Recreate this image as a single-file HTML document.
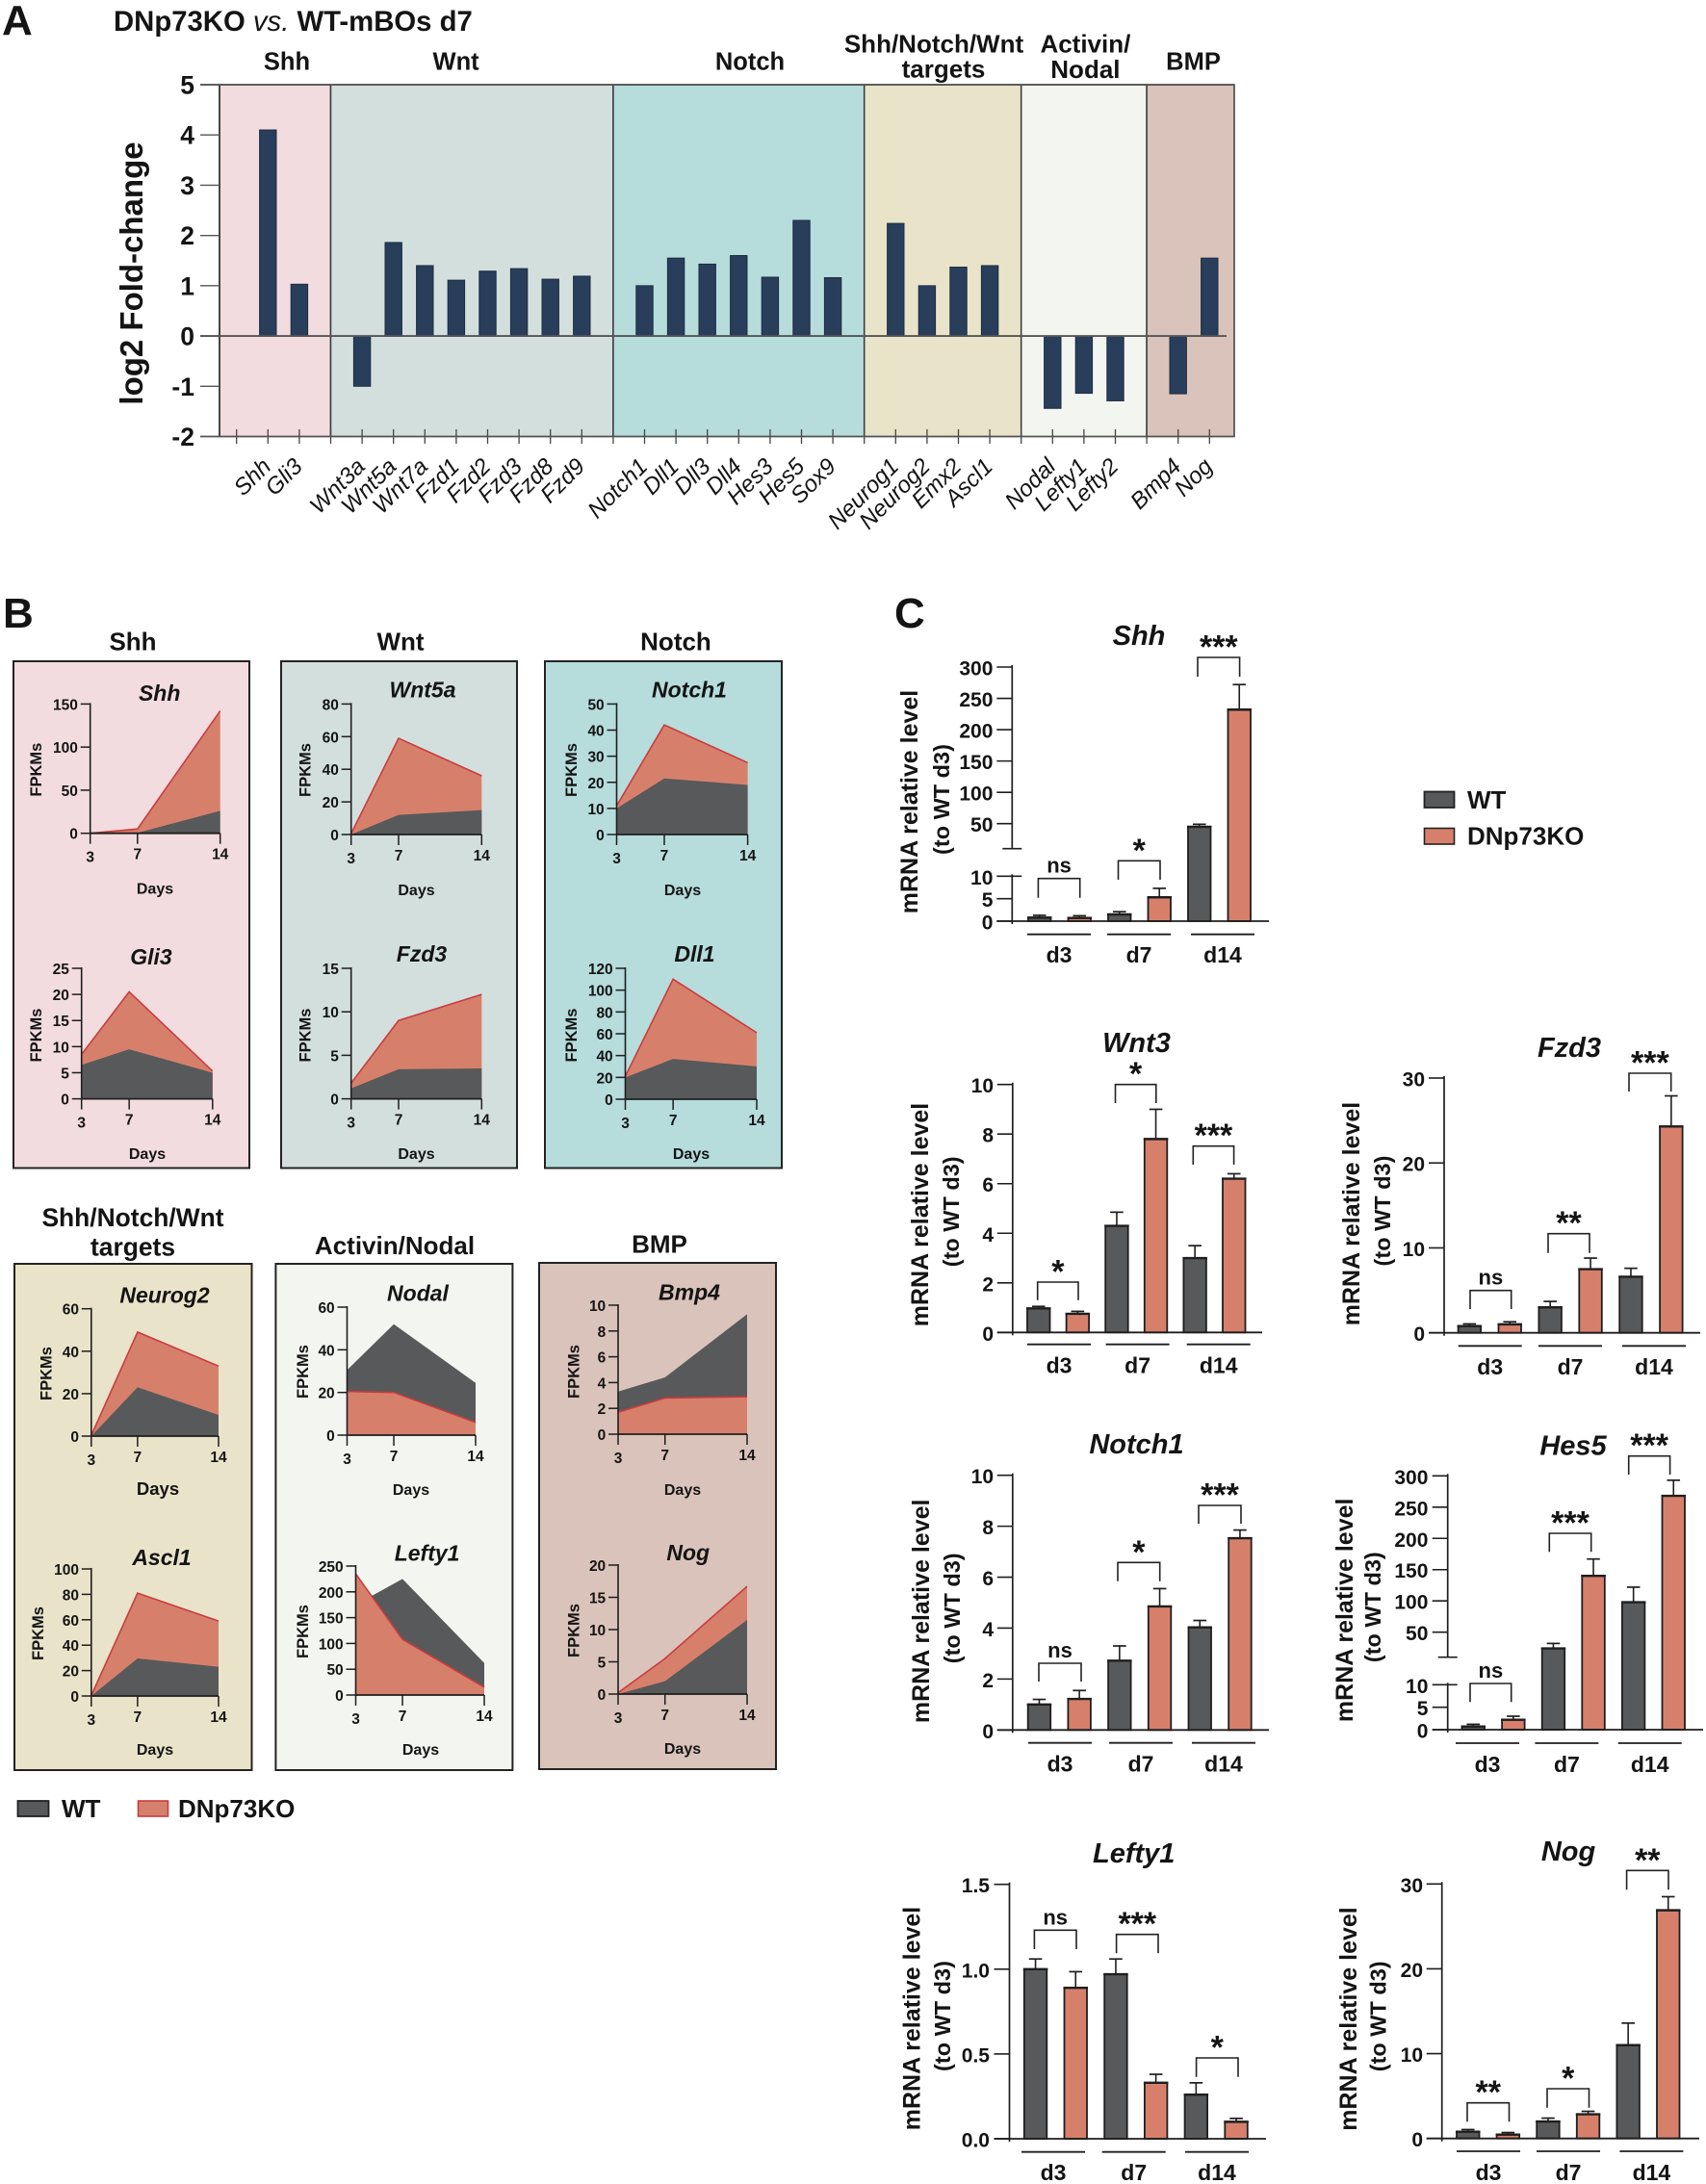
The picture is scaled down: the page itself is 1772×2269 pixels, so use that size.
<!DOCTYPE html>
<html lang="en">
<head>
<meta charset="utf-8">
<title>DNp73KO vs. WT mBOs pathway expression</title>
<style>
html,body{margin:0;padding:0;background:#fff;}
svg{display:block;font-family:"Liberation Sans",Arial,sans-serif;}
text{fill:#141414;}
</style>
</head>
<body>
<svg id="figure" width="1772" height="2269" viewBox="0 0 1772 2269">
  <rect x="0" y="0" width="1772" height="2269" fill="#ffffff"/>
  <text x="2" y="36" font-size="44" font-weight="700">A</text>
  <text x="118" y="32" font-size="29.3" font-weight="700">DNp73KO <tspan font-weight="400" font-style="italic">vs.</tspan> WT-mBOs d7</text>
  <text x="3" y="652" font-size="44" font-weight="700">B</text>
  <text x="929" y="652" font-size="44" font-weight="700">C</text>
  <g id="panelA"></g>
  <g id="panelB"></g>
  <g id="panelC"></g>
</svg>
<script>
/* ---------- Panel A data ---------- */
const foldPathways = ['Shh', 'Wnt', 'Notch', 'Shh/Notch/Wnt targets', 'Activin/Nodal', 'BMP'];
const foldPathwaySizes = [2, 8, 7, 4, 3, 2];
const foldGenes = ['Shh','Gli3','Wnt3a','Wnt5a','Wnt7a','Fzd1','Fzd2','Fzd3','Fzd8','Fzd9','Notch1','Dll1','Dll3','Dll4','Hes3','Hes5','Sox9','Neurog1','Neurog2','Emx2','Ascl1','Nodal','Lefty1','Lefty2','Bmp4','Nog'];
const foldValues = [4.1,1.03,-1,1.86,1.4,1.11,1.29,1.34,1.13,1.19,1.0,1.55,1.43,1.6,1.17,2.3,1.16,2.24,1.0,1.37,1.4,-1.44,-1.14,-1.29,-1.15,1.55];
const foldTicks = [-2,-1,0,1,2,3,4,5];

/* ---------- Panel B data ---------- */
const timeDays = [3,7,14];
const fpkmShhWT = [0,0.5,26];
const fpkmShhKO = [0,5,142];
const fpkmGli3WT = [6.5,9.5,5];
const fpkmGli3KO = [8.5,20.5,5.3];
const fpkmWnt5aWT = [0,12,15];
const fpkmWnt5aKO = [0.5,59,36];
const fpkmFzd3WT = [1.2,3.4,3.5];
const fpkmFzd3KO = [1.8,9,12];
const fpkmNotch1WT = [10,21.5,19];
const fpkmNotch1KO = [11,42,27.5];
const fpkmDll1WT = [20,37,30];
const fpkmDll1KO = [21,110,61];
const fpkmNeurog2WT = [0,23,10];
const fpkmNeurog2KO = [0.3,49,33];
const fpkmAscl1WT = [0,29.5,23];
const fpkmAscl1KO = [0.3,81,59];
const fpkmNodalWT = [30.5,52,24.5];
const fpkmNodalKO = [20.5,20,6];
const fpkmLefty1WT = [175,225,62];
const fpkmLefty1KO = [235,108,15];
const fpkmBmp4WT = [3.3,4.4,9.3];
const fpkmBmp4KO = [1.7,2.8,2.9];
const fpkmNogWT = [0,2,11.5];
const fpkmNogKO = [0.2,5.5,16.7];
const ticks150 = [0,50,100,150];
const ticks25 = [0,5,10,15,20,25];
const ticks80 = [0,20,40,60,80];
const ticks15 = [0,5,10,15];
const ticks50 = [0,10,20,30,40,50];
const ticks120 = [0,20,40,60,80,100,120];
const ticks60 = [0,20,40,60];
const ticks100 = [0,20,40,60,80,100];
const ticks250 = [0,50,100,150,200,250];
const ticks10 = [0,2,4,6,8,10];
const ticks20 = [0,5,10,15,20];

/* ---------- Panel C data (WT d3, KO d3, WT d7, KO d7, WT d14, KO d14) ---------- */
const qpcrGroups = ['d3','d7','d14'];
const qpcrShhMeans = [0.8,0.7,1.5,5.3,45,232];
const qpcrShhUpper = [1.3,1.2,2.1,7.3,49,272];
const qpcrShhSig = ['ns','*','***'];
const qpcrShhTicksLow = [0,5,10];
const qpcrShhTicksHigh = [50,100,150,200,250,300];
const qpcrWnt3Means = [0.97,0.75,4.3,7.8,3,6.2];
const qpcrWnt3Upper = [1.05,0.85,4.85,9,3.5,6.4];
const qpcrWnt3Sig = ['*','*','***'];
const qpcrWnt3Ticks = [0,2,4,6,8,10];
const qpcrFzd3Means = [0.8,1.0,3,7.5,6.6,24.3];
const qpcrFzd3Upper = [1.05,1.3,3.7,8.8,7.6,27.9];
const qpcrFzd3Sig = ['ns','**','***'];
const qpcrFzd3Ticks = [0,10,20,30];
const qpcrNotch1Means = [1,1.22,2.72,4.85,4.03,7.53];
const qpcrNotch1Upper = [1.2,1.55,3.3,5.55,4.3,7.85];
const qpcrNotch1Sig = ['ns','*','***'];
const qpcrNotch1Ticks = [0,2,4,6,8,10];
const qpcrHes5Means = [0.7,2.2,24,140,98,268];
const qpcrHes5Upper = [1.2,3.0,32,167,122,293];
const qpcrHes5Sig = ['ns','***','***'];
const qpcrHes5TicksLow = [0,5,10];
const qpcrHes5TicksHigh = [50,100,150,200,250,300];
const qpcrLefty1Means = [1.0,0.89,0.97,0.33,0.26,0.1];
const qpcrLefty1Upper = [1.06,0.985,1.06,0.38,0.33,0.12];
const qpcrLefty1Sig = ['ns','***','*'];
const qpcrLefty1Ticks = ['0.0','0.5','1.0','1.5'];
const qpcrNogMeans = [0.8,0.45,2,2.85,11,26.9];
const qpcrNogUpper = [1.05,0.7,2.4,3.2,13.6,28.5];
const qpcrNogSig = ['**','*','**'];
const qpcrNogTicks = [0,10,20,30];

/* ---------- Helpers ---------- */
const NS = document.getElementById('figure').namespaceURI;
const WT_FILL = '#58595a', KO_FILL = '#d6806c', KO_LINE = '#c93c3e', INK = '#1e1e1e';

function addGroup(parent, name) {
  const el = document.createElementNS(NS, 'g');
  
  
  parent.appendChild(el);
  return el;
}
function addShape(parent, name, tag, props) {
  const el = document.createElementNS(NS, tag);
  
  
  for (const k in props) el.setAttribute(k, props[k]);
  parent.appendChild(el);
  return el;
}
function addLine(parent, name, x1, y1, x2, y2, width, color) {
  return addShape(parent, name, 'line', {x1, y1, x2, y2, stroke: color || INK, 'stroke-width': width || 1.5});
}
function addText(parent, name, str, x, y, size, opts) {
  const o = opts || {};
  const el = document.createElementNS(NS, 'text');
  
  
  el.setAttribute('x', x);
  el.setAttribute('y', y);
  el.setAttribute('font-size', size);
  el.setAttribute('font-weight', o.weight || 700);
  el.setAttribute('text-anchor', o.anchor || 'middle');
  if (o.italic) el.setAttribute('font-style', 'italic');
  if (o.rot) el.setAttribute('transform', 'rotate(' + o.rot + ' ' + x + ' ' + y + ')');
  el.textContent = str;
  parent.appendChild(el);
  return el;
}
function slug(s) { return String(s).toLowerCase().replace(/[^a-z0-9]+/g, '-'); }

/* ---------- Panel A ---------- */
(function () {
  const root = document.getElementById('panelA');
  const left = 228, right = 1282, top = 88, bottom = 453.5;
  const xA = slot => 245.7 + 32.6 * slot;
  const yA = v => bottom - (v - (-2)) * (bottom - top) / 7;
  const fills = ['#f2dcdf', '#d2dfdd', '#b6dcdc', '#e9e3c9', '#f3f5f0', '#dac3ba'];
  const bgs = addGroup(root, 'pathway-backgrounds');
  const ticks = addGroup(root, 'x-axis-ticks');
  const bars = addGroup(root, 'fold-change-bars');
  const labels = addGroup(root, 'gene-labels');
  let slot = 0;
  const slots = [];
  foldPathwaySizes.forEach((size, g) => {
    const start = g === 0 ? left : xA(slot);
    for (let k = 0; k < size; k++) { slot++; slots.push(slot); }
    const end = g === foldPathwaySizes.length - 1 ? right : xA(slot + 1);
    addShape(bgs, 'pathway-band-' + slug(foldPathways[g]), 'rect', {x: start, y: top, width: end - start, height: bottom - top, fill: fills[g], stroke: '#3a3a3a', 'stroke-width': 1.5});
    slot++;
  });
  for (let s = 0; s <= slots[slots.length - 1]; s++) {
    addLine(ticks, 'x-tick', xA(s), 446, xA(s), 461, 1.3, '#444');
  }
  foldValues.forEach((v, i) => {
    const x = xA(slots[i]);
    addShape(bars, 'bar-' + slug(foldGenes[i]), 'rect', {x: x - 8.7, y: Math.min(yA(v), yA(0)), width: 17.4, height: Math.abs(yA(v) - yA(0)), fill: '#283e5b', stroke: '#1d2c40', 'stroke-width': 1});
    addText(labels, 'gene-label-' + slug(foldGenes[i]), foldGenes[i], x + 4.5, 486, 24, {weight: 400, italic: true, anchor: 'end', rot: -45});
  });
  addLine(root, 'y-axis-spine', left, top, left, bottom, 1.6, '#333');
  addLine(root, 'top-border', 208, top, right, top, 1.8, '#555');
  addLine(root, 'bottom-border', 208, bottom, right, bottom, 1.6, '#555');
  addLine(root, 'zero-line', 208, yA(0), 1274, yA(0), 1.8, '#555');
  foldTicks.forEach(t => {
    addLine(root, 'y-tick', 208, yA(t), left, yA(t), 1.4, '#555');
    addText(root, 'y-tick-label', t, 202, yA(t) + 9.5, 26.5, {anchor: 'end'});
  });
  addText(root, 'y-axis-title', 'log2 Fold-change', 148, 284, 33, {rot: -90});
  addText(root, 'pathway-title-shh', 'Shh', 298, 72.7, 25.5);
  addText(root, 'pathway-title-wnt', 'Wnt', 473.6, 72.7, 25.5);
  addText(root, 'pathway-title-notch', 'Notch', 779, 72.7, 25.5);
  addText(root, 'pathway-title-targets-line1', 'Shh/Notch/Wnt', 970, 54.7, 26);
  addText(root, 'pathway-title-targets-line2', 'targets', 980, 80.7, 26);
  addText(root, 'pathway-title-activin', 'Activin/', 1127.4, 54.7, 26);
  addText(root, 'pathway-title-nodal', 'Nodal', 1127.4, 81, 26);
  addText(root, 'pathway-title-bmp', 'BMP', 1239.5, 72.7, 25.5);
})();

/* ---------- Panel B ---------- */
const panelB = document.getElementById('panelB');

function areaChart(c) {
  const g = addGroup(panelB, 'area-chart-' + slug(c.gene));
  const xS = d => c.x0 + (d - timeDays[0]) * (c.x1 - c.x0) / (timeDays[timeDays.length - 1] - timeDays[0]);
  const yS = v => c.y0 - v * (c.y0 - c.top) / c.ticks[c.ticks.length - 1];
  const area = vals => {
    const pts = vals.map((v, i) => xS(timeDays[i]) + ',' + yS(v));
    return xS(timeDays[0]) + ',' + c.y0 + ' ' + pts.join(' ') + ' ' + xS(timeDays[timeDays.length - 1]) + ',' + c.y0;
  };
  const drawWT = () => addShape(g, 'area-wt', 'polygon', {points: area(c.wt), fill: WT_FILL});
  const drawKO = () => addShape(g, 'area-dnp73ko', 'polygon', {points: area(c.ko), fill: KO_FILL});
  if (c.koFront) { drawWT(); drawKO(); } else { drawKO(); drawWT(); }
  addShape(g, 'line-dnp73ko', 'polyline', {points: c.ko.map((v, i) => xS(timeDays[i]) + ',' + yS(v)).join(' '), fill: 'none', stroke: KO_LINE, 'stroke-width': 1.6});
  addLine(g, 'y-axis', c.x0, c.top - 1, c.x0, c.y0, 1.6);
  addLine(g, 'x-axis', c.x0, c.y0, c.x1, c.y0, 1.8);
  c.ticks.forEach(t => {
    addLine(g, 'y-tick', c.x0 - 10, yS(t), c.x0, yS(t), 1.5);
    addText(g, 'y-tick-label', t, c.x0 - 12.8, yS(t) + 6, 15.5, {anchor: 'end'});
  });
  timeDays.forEach((d, i) => {
    addLine(g, 'x-tick', xS(d), c.y0, xS(d), c.y0 + 11, 1.5);
    addText(g, 'x-tick-label', d, xS(d), c.y0 + (i === 0 ? 30 : 27), 15.5);
  });
  addText(g, 'chart-title', c.gene, c.titleX, c.titleY, 23, {italic: true});
  addText(g, 'x-axis-title', 'Days', c.daysX, c.daysY, c.daysSize || 16);
  addText(g, 'y-axis-title', 'FPKMs', c.yLabelX + 6, c.yLabelY, 16.5, {rot: -90});
}

function pathwayBox(name, x, y, w, h, fill) {
  addShape(panelB, 'pathway-box-' + name, 'rect', {x, y, width: w, height: h, fill, stroke: '#232323', 'stroke-width': 2});
}

pathwayBox('shh', 14, 687, 245, 526.5, '#f2dcdf');
pathwayBox('wnt', 292, 687, 245, 526.5, '#d2dfdd');
pathwayBox('notch', 566, 687, 246, 526.5, '#b6dcdc');
pathwayBox('targets', 15, 1313, 246.5, 526, '#e9e3c9');
pathwayBox('activin-nodal', 286.4, 1313, 246, 526, '#f3f5f0');
pathwayBox('bmp', 560, 1312, 246, 526, '#dac3ba');

addText(panelB, 'box-title-shh', 'Shh', 138, 675.5, 26);
addText(panelB, 'box-title-wnt', 'Wnt', 416, 675.5, 26);
addText(panelB, 'box-title-notch', 'Notch', 702, 675.5, 26);
addText(panelB, 'box-title-targets-line1', 'Shh/Notch/Wnt', 138, 1274, 26.4);
addText(panelB, 'box-title-targets-line2', 'targets', 138, 1304.6, 26.4);
addText(panelB, 'box-title-activin-nodal', 'Activin/Nodal', 410, 1303, 26);
addText(panelB, 'box-title-bmp', 'BMP', 685, 1301.5, 26);

areaChart({gene:'Shh', wt:fpkmShhWT, ko:fpkmShhKO, ticks:ticks150, x0:93.7, x1:228.7, y0:865.7, top:731.4, titleX:165.7, titleY:727.8, daysX:161, daysY:928.6, yLabelX:37, yLabelY:799.6});
areaChart({gene:'Gli3', wt:fpkmGli3WT, ko:fpkmGli3KO, ticks:ticks25, x0:84.7, x1:220.8, y0:1141.6, top:1006, titleX:157, titleY:1002, daysX:153, daysY:1204, yLabelX:37, yLabelY:1075.5});
areaChart({gene:'Wnt5a', wt:fpkmWnt5aWT, ko:fpkmWnt5aKO, ticks:ticks80, x0:364.7, x1:500.3, y0:867, top:731.4, titleX:439, titleY:724.5, daysX:432.5, daysY:930, yLabelX:316.5, yLabelY:800});
areaChart({gene:'Fzd3', wt:fpkmFzd3WT, ko:fpkmFzd3KO, ticks:ticks15, x0:364.7, x1:500.3, y0:1141.6, top:1006, titleX:438, titleY:999, daysX:432.5, daysY:1204, yLabelX:316.5, yLabelY:1075.5});
areaChart({gene:'Notch1', wt:fpkmNotch1WT, ko:fpkmNotch1KO, ticks:ticks50, x0:640.5, x1:776.6, y0:867, top:731.4, titleX:716, titleY:724.5, daysX:709, daysY:930, yLabelX:593, yLabelY:800});
areaChart({gene:'Dll1', wt:fpkmDll1WT, ko:fpkmDll1KO, ticks:ticks120, x0:649.5, x1:786, y0:1142, top:1006, titleX:721.5, titleY:999, daysX:718, daysY:1204, yLabelX:593, yLabelY:1075.5});
areaChart({gene:'Neurog2', wt:fpkmNeurog2WT, ko:fpkmNeurog2KO, ticks:ticks60, x0:94.8, x1:227, y0:1492, top:1359.7, titleX:171, titleY:1353.6, daysX:164, daysY:1553, daysSize:18.5, yLabelX:47.6, yLabelY:1427});
areaChart({gene:'Ascl1', wt:fpkmAscl1WT, ko:fpkmAscl1KO, ticks:ticks100, x0:94.8, x1:227, y0:1762, top:1630, titleX:168, titleY:1626, daysX:161, daysY:1823, yLabelX:39, yLabelY:1697});
areaChart({gene:'Nodal', wt:fpkmNodalWT, ko:fpkmNodalKO, koFront:true, ticks:ticks60, x0:360.5, x1:494, y0:1491, top:1358, titleX:434, titleY:1351.4, daysX:427, daysY:1553, yLabelX:314, yLabelY:1425});
areaChart({gene:'Lefty1', wt:fpkmLefty1WT, ko:fpkmLefty1KO, koFront:true, ticks:ticks250, x0:369.5, x1:503, y0:1761, top:1627, titleX:443.6, titleY:1621.6, daysX:437, daysY:1823, yLabelX:314, yLabelY:1695});
areaChart({gene:'Bmp4', wt:fpkmBmp4WT, ko:fpkmBmp4KO, koFront:true, ticks:ticks10, x0:642, x1:776, y0:1490, top:1356, titleX:716, titleY:1350.5, daysX:709, daysY:1553, yLabelX:595.5, yLabelY:1425});
areaChart({gene:'Nog', wt:fpkmNogWT, ko:fpkmNogKO, ticks:ticks20, x0:642, x1:776, y0:1760, top:1626, titleX:714.7, titleY:1621, daysX:709, daysY:1822, yLabelX:595.5, yLabelY:1694});

(function () {
  const g = addGroup(panelB, 'legend-b');
  addShape(g, 'legend-swatch-wt', 'rect', {x:18.5, y:1871, width:32, height:16, fill:WT_FILL, stroke:'#222', 'stroke-width':1.8});
  addText(g, 'legend-label-wt', 'WT', 64, 1888, 26, {anchor:'start'});
  addShape(g, 'legend-swatch-dnp73ko', 'rect', {x:143.5, y:1871, width:31, height:16, fill:KO_FILL, stroke:KO_LINE, 'stroke-width':1.6});
  addText(g, 'legend-label-dnp73ko', 'DNp73KO', 185, 1888, 26, {anchor:'start'});
})();

/* ---------- Panel C ---------- */
const panelC = document.getElementById('panelC');

function barChart(c) {
  const g = addGroup(panelC, 'bar-chart-' + slug(c.gene));
  const barW = 23.5, capW = 25.5;
  const centre = i => c.barStart + capW / 2 + c.step * i;
  let yS;
  if (c.broken) {
    const k = (c.y50 - c.y300) / 250;
    yS = v => v <= 10 ? c.y0 - v * (c.y0 - c.y10) / 10 : c.y50 - (v - 50) * k;
  } else {
    yS = v => c.y0 - v * (c.y0 - c.top) / c.max;
  }
  c.means.forEach((m, i) => {
    const isKO = i % 2 === 1;
    const tag = (isKO ? 'dnp73ko-' : 'wt-') + qpcrGroups[Math.floor(i / 2)];
    const x = centre(i), yTop = yS(m), yErr = yS(c.upper[i]);
    addLine(g, 'error-bar-' + tag, x, yTop, x, yErr, 1.6);
    addLine(g, 'error-cap-' + tag, x - 6.8, yErr, x + 6.8, yErr, 1.7);
    addShape(g, 'bar-' + tag, 'rect', {x: x - barW / 2, y: yTop, width: barW, height: c.y0 - yTop, fill: isKO ? KO_FILL : WT_FILL, stroke: '#1e1e1e', 'stroke-width': 1.8});
    addLine(g, 'bar-cap-' + tag, x - capW / 2, yTop, x + capW / 2, yTop, 2.4);
  });
  if (c.broken) {
    const yBreak = yS(50) + 40 * (c.y50 - c.y300) / 250;
    addLine(g, 'y-axis-upper', c.axisX, c.y300 - 2, c.axisX, yBreak, 1.7);
    addLine(g, 'y-axis-lower', c.axisX, c.y10 - 2, c.axisX, c.y0 + 3, 1.7);
    addLine(g, 'axis-break-cap', c.axisX - 10, yBreak, c.axisX + 10, yBreak, 1.6);
    addLine(g, 'axis-break-cap-lower', c.axisX + 0, c.y10, c.axisX + 10, c.y10, 1.6);
    c.ticksLow.forEach(t => {
      addLine(g, 'y-tick', c.axisX - 16, yS(t), c.axisX, yS(t), 1.6);
      addText(g, 'y-tick-label', t, c.labelX, yS(t) + 8.5, 21, {anchor: 'end'});
    });
    c.ticksHigh.forEach(t => {
      addLine(g, 'y-tick', c.axisX - 16, yS(t), c.axisX, yS(t), 1.6);
      addText(g, 'y-tick-label', t, c.labelX, yS(t) + 8.5, 21, {anchor: 'end'});
    });
  } else {
    addLine(g, 'y-axis', c.axisX, c.top - 2, c.axisX, c.y0 + 3, 1.7);
    c.ticks.forEach(t => {
      addLine(g, 'y-tick', c.axisX - 16, yS(+t), c.axisX, yS(+t), 1.6);
      addText(g, 'y-tick-label', t, c.labelX, yS(+t) + 8.5, 21, {anchor: 'end'});
    });
  }
  addLine(g, 'x-axis', c.axisX - 16, c.y0, c.axisEnd, c.y0, 1.8);
  qpcrGroups.forEach((name, i) => {
    const gx = c.groupX[i];
    addLine(g, 'group-line-' + name, gx, c.groupY, gx + 66, c.groupY, 1.8);
    addText(g, 'group-label-' + name, name, gx + 33, c.groupLabelY, 23);
  });
  c.sig.forEach((s, i) => {
    const a = c.brackets[i];
    addShape(g, 'significance-bracket-' + qpcrGroups[i], 'polyline', {points: a.x1 + ',' + a.bottom + ' ' + a.x1 + ',' + a.top + ' ' + a.x2 + ',' + a.top + ' ' + a.x2 + ',' + a.bottom, fill: 'none', stroke: '#222', 'stroke-width': 1.6});
    const mid = (a.x1 + a.x2) / 2;
    if (s === 'ns') addText(g, 'significance-label-' + qpcrGroups[i], s, mid, a.top - 6, 22);
    else addText(g, 'significance-label-' + qpcrGroups[i], s, mid, a.top + 0.5, 34);
  });
  addText(g, 'chart-title', c.gene, c.titleX, c.titleY, 29, {italic: true});
  addText(g, 'y-axis-title-line1', 'mRNA relative level', c.ytX1, c.ytY1, 25, {rot: -90});
  addText(g, 'y-axis-title-line2', '(to WT d3)', c.ytX2, c.ytY2, 23.5, {rot: -90});
}

barChart({gene:'Shh', means:qpcrShhMeans, upper:qpcrShhUpper, sig:qpcrShhSig, broken:true, ticksLow:qpcrShhTicksLow, ticksHigh:qpcrShhTicksHigh,
  axisX:1051.3, axisEnd:1318, y0:957, y10:910.3, y50:855.7, y300:693, labelX:1031.4, barStart:1067, step:41.5,
  groupX:[1067,1150,1237], groupY:970.7, groupLabelY:1000, titleX:1183, titleY:670, ytX1:953, ytY1:833, ytX2:986, ytY2:830.5,
  brackets:[{x1:1078.4,x2:1121.7,top:912.7,bottom:932.7},{x1:1161.5,x2:1205,top:894.3,bottom:914},{x1:1244,x2:1287.6,top:683,bottom:703}]});

barChart({gene:'Wnt3', means:qpcrWnt3Means, upper:qpcrWnt3Upper, sig:qpcrWnt3Sig, ticks:qpcrWnt3Ticks, max:10,
  axisX:1051.8, axisEnd:1311, y0:1384.3, top:1126.7, labelX:1032, barStart:1066, step:40.6,
  groupX:[1067,1148.6,1232.7], groupY:1396.7, groupLabelY:1426.7, titleX:1180.5, titleY:1093, ytX1:964, ytY1:1262, ytX2:996, ytY2:1258.8,
  brackets:[{x1:1077.7,x2:1120,top:1332,bottom:1350.7},{x1:1158.5,x2:1200.8,top:1126.7,bottom:1146},{x1:1239.3,x2:1281.6,top:1190.7,bottom:1210}]});

barChart({gene:'Fzd3', means:qpcrFzd3Means, upper:qpcrFzd3Upper, sig:qpcrFzd3Sig, ticks:qpcrFzd3Ticks, max:30,
  axisX:1500, axisEnd:1766, y0:1384.7, top:1120, labelX:1480, barStart:1513.6, step:41.9,
  groupX:[1514.7,1598,1685], groupY:1398.3, groupLabelY:1428, titleX:1630, titleY:1098, ytX1:1412, ytY1:1261, ytX2:1444, ytY2:1258,
  brackets:[{x1:1527,x2:1569.7,top:1340.7,bottom:1360},{x1:1608,x2:1651,top:1281.7,bottom:1301.7},{x1:1692,x2:1735.7,top:1115,bottom:1134}]});

barChart({gene:'Notch1', means:qpcrNotch1Means, upper:qpcrNotch1Upper, sig:qpcrNotch1Sig, ticks:qpcrNotch1Ticks, max:10,
  axisX:1051.8, axisEnd:1318, y0:1797.3, top:1532.7, labelX:1032, barStart:1066.7, step:41.7,
  groupX:[1068,1152,1238], groupY:1810.7, groupLabelY:1840.7, titleX:1180.5, titleY:1510, ytX1:965, ytY1:1673.8, ytX2:997, ytY2:1670.8,
  brackets:[{x1:1079,x2:1123,top:1728,bottom:1747},{x1:1161,x2:1204.7,top:1623.3,bottom:1642.7},{x1:1245,x2:1289,top:1564,bottom:1583}]});

barChart({gene:'Hes5', means:qpcrHes5Means, upper:qpcrHes5Upper, sig:qpcrHes5Sig, broken:true, ticksLow:qpcrHes5TicksLow, ticksHigh:qpcrHes5TicksHigh,
  axisX:1503.7, axisEnd:1769, y0:1797, y10:1750.3, y50:1695.7, y300:1533.3, labelX:1483.4, barStart:1517.5, step:41.6,
  groupX:[1512,1594.4,1680.7], groupY:1811, groupLabelY:1841, titleX:1634, titleY:1511.7, ytX1:1404.8, ytY1:1672.8, ytX2:1434, ytY2:1669.7,
  brackets:[{x1:1527,x2:1569.7,top:1749,bottom:1768.3},{x1:1609.3,x2:1652.7,top:1593,bottom:1612.3},{x1:1691.7,x2:1734.6,top:1512.7,bottom:1532}]});

barChart({gene:'Lefty1', means:qpcrLefty1Means, upper:qpcrLefty1Upper, sig:qpcrLefty1Sig, ticks:qpcrLefty1Ticks, max:1.5,
  axisX:1048.5, axisEnd:1315, y0:2222, top:1957.7, labelX:1028, barStart:1062.8, step:41.7,
  groupX:[1061,1144.7,1231], groupY:2235.7, groupLabelY:2265, titleX:1177.7, titleY:1935, ytX1:955.6, ytY1:2097, ytX2:987, ytY2:2094.5,
  brackets:[{x1:1074.4,x2:1118,top:2005.3,bottom:2025},{x1:1159.6,x2:1203,top:2009.7,bottom:2029.3},{x1:1242.6,x2:1286,top:2138,bottom:2157.7}]});

barChart({gene:'Nog', means:qpcrNogMeans, upper:qpcrNogUpper, sig:qpcrNogSig, ticks:qpcrNogTicks, max:30,
  axisX:1497.7, axisEnd:1765, y0:2221.7, top:1957.3, labelX:1478, barStart:1512, step:41.6,
  groupX:[1513,1596,1682.4], groupY:2235, groupLabelY:2265, titleX:1629, titleY:1933, ytX1:1409, ytY1:2097.5, ytX2:1439.5, ytY2:2094.8,
  brackets:[{x1:1524,x2:1567.5,top:2184.7,bottom:2204.3},{x1:1607,x2:1650.5,top:2170,bottom:2189.7},{x1:1689.6,x2:1733,top:1943.3,bottom:1963.3}]});

(function () {
  const g = addGroup(panelC, 'legend-c');
  addShape(g, 'legend-swatch-wt', 'rect', {x:1479.5, y:822.5, width:31, height:16.5, fill:WT_FILL, stroke:'#222', 'stroke-width':1.8});
  addText(g, 'legend-label-wt', 'WT', 1524, 840, 26, {anchor:'start'});
  addShape(g, 'legend-swatch-dnp73ko', 'rect', {x:1479.5, y:860.5, width:31, height:16.5, fill:KO_FILL, stroke:'#222', 'stroke-width':1.6});
  addText(g, 'legend-label-dnp73ko', 'DNp73KO', 1524, 877.7, 26, {anchor:'start'});
})();
</script>
</body>
</html>
